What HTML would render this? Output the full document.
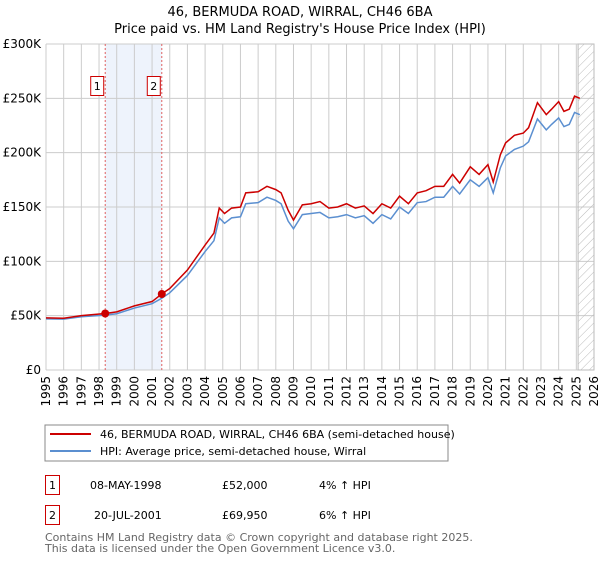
<!DOCTYPE html>
<html><head><meta charset="utf-8"><style>
body{margin:0;background:#fff;width:600px;height:560px;overflow:hidden;font-family:"DejaVu Sans","Liberation Sans",sans-serif}
svg text{font-family:"DejaVu Sans","Liberation Sans",sans-serif}
</style></head><body>
<svg id="chart" width="600" height="560" viewBox="0 0 600 560">
<text x="300" y="16" text-anchor="middle" font-size="13">46, BERMUDA ROAD, WIRRAL, CH46 6BA</text>
<text x="300" y="33" text-anchor="middle" font-size="13">Price paid vs. HM Land Registry's House Price Index (HPI)</text>
<defs><pattern id="hatch" width="6" height="6" patternUnits="userSpaceOnUse" patternTransform="rotate(45)"><line x1="0" y1="0" x2="0" y2="6" stroke="#bbb" stroke-width="1"/></pattern></defs>
<g id="grid"></g><g id="marks"></g><g id="axes"></g>
<rect x="45" y="425" width="403" height="36" fill="#fff" stroke="#888" stroke-width="1"/>
<line x1="50" y1="434" x2="91" y2="434" stroke="#cc0000" stroke-width="2"/>
<text x="100" y="438" font-size="11">46, BERMUDA ROAD, WIRRAL, CH46 6BA (semi-detached house)</text>
<line x1="50" y1="451" x2="91" y2="451" stroke="#5b8fd0" stroke-width="2"/>
<text x="100" y="455" font-size="11">HPI: Average price, semi-detached house, Wirral</text>
<g font-size="11">
<rect x="45.5" y="475.5" width="14" height="19" fill="#fff" stroke="#cc0000"/>
<text x="52.5" y="489" text-anchor="middle">1</text>
<text x="90" y="489">08-MAY-1998</text><text x="222" y="489">£52,000</text><text x="319" y="489">4% ↑ HPI</text></g>
<g font-size="11">
<rect x="45.5" y="505.5" width="14" height="19" fill="#fff" stroke="#cc0000"/>
<text x="52.5" y="519" text-anchor="middle">2</text>
<text x="94" y="519">20-JUL-2001</text><text x="222" y="519">£69,950</text><text x="319" y="519">6% ↑ HPI</text></g>
<text x="45" y="541" font-size="11" fill="#666">Contains HM Land Registry data © Crown copyright and database right 2025.</text>
<text x="45" y="552" font-size="11" fill="#666">This data is licensed under the Open Government Licence v3.0.</text>
</svg>
<script>
const yearTicks=[1995,1996,1997,1998,1999,2000,2001,2002,2003,2004,2005,2006,2007,2008,2009,2010,2011,2012,2013,2014,2015,2016,2017,2018,2019,2020,2021,2022,2023,2024,2025,2026];
const valueTicks=[0,50000,100000,150000,200000,250000,300000];
const valueLabels=["£0","£50K","£100K","£150K","£200K","£250K","£300K"];
const priceYears=[1995,1996,1997,1998.35,1999,2000,2001,2001.55,2002,2003,2004,2004.5,2004.8,2005.1,2005.5,2006,2006.3,2007,2007.5,2008,2008.3,2008.7,2009,2009.5,2010,2010.5,2011,2011.5,2012,2012.5,2013,2013.5,2014,2014.5,2015,2015.5,2016,2016.5,2017,2017.5,2018,2018.4,2019,2019.5,2020,2020.3,2020.7,2021,2021.5,2022,2022.3,2022.8,2023.3,2023.6,2024,2024.3,2024.6,2024.9,2025.2];
const priceValues=[48000,47600,50000,52000,53500,59000,63000,70000,75000,92000,115000,126000,149000,144000,149000,150000,163000,164000,169000,166000,163000,147000,138000,152000,153000,155000,149000,150000,153000,149000,151000,144000,153000,149000,160000,153000,163000,165000,169000,169000,180000,172000,187000,180000,189000,173000,198000,209000,216000,218000,223000,246000,235000,240000,247000,238000,240000,252000,250000];
const hpiValues=[47000,46800,49000,50500,51800,57000,61000,66000,71000,87000,109000,119000,140000,135000,140000,141000,153000,154000,159000,156000,153000,137000,130000,143000,144000,145000,140000,141000,143000,140000,142000,135000,143000,139000,150000,144000,154000,155000,159000,159000,169000,162000,175000,169000,177000,163000,186000,197000,203000,206000,210000,231000,221000,226000,232000,224000,226000,237000,235000];
const saleYears=[1998.35,2001.55];
const saleValues=[52000,69950];
const saleLabels=["1","2"];
const hatchStart=2025.1;
const X0=46,X1=594,Y0=370,Y1=44;
const xs=y=>X0+(y-1995)/(2026-1995)*(X1-X0);
const ys=v=>Y0-v/300000*(Y0-Y1);
const NS="http://www.w3.org/2000/svg";
function mk(tag,attrs,parent){const e=document.createElementNS(NS,tag);for(const k in attrs)e.setAttribute(k,attrs[k]);parent.appendChild(e);return e;}
const grid=document.getElementById('grid'),marks=document.getElementById('marks'),axes=document.getElementById('axes');
// shaded band between sales
const band=mk('rect',{x:xs(saleYears[0]),y:Y1,width:xs(saleYears[1])-xs(saleYears[0]),height:Y0-Y1,fill:'#eef3fc'},grid);


yearTicks.forEach(t=>{const l=mk('line',{x1:xs(t),x2:xs(t),y1:Y1,y2:Y0,stroke:'#ccc','stroke-width':1},grid);


const tx=mk('text',{x:0,y:0,'font-size':12,'text-anchor':'end',transform:`translate(${xs(t)+4},${Y0+6}) rotate(-90)`},axes);
tx.textContent=t;

});
valueTicks.forEach((v,i)=>{const l=mk('line',{x1:X0,x2:X1,y1:ys(v),y2:ys(v),stroke:'#ccc','stroke-width':1},grid);


const tx=mk('text',{x:X0-5,y:ys(v)+4,'font-size':12,'text-anchor':'end'},axes);
tx.textContent=valueLabels[i];

});
const h=mk('rect',{x:xs(hatchStart),y:Y1,width:X1-xs(hatchStart),height:Y0-Y1,fill:'url(#hatch)',stroke:'#bbb'},grid);


const hp=mk('polyline',{points:priceYears.map((y,i)=>xs(y)+','+ys(hpiValues[i])).join(' '),fill:'none',stroke:'#5b8fd0','stroke-width':1.5},marks);


const pp=mk('polyline',{points:priceYears.map((y,i)=>xs(y)+','+ys(priceValues[i])).join(' '),fill:'none',stroke:'#cc0000','stroke-width':1.5},marks);


saleYears.forEach((y,i)=>{const vl=mk('line',{x1:xs(y),x2:xs(y),y1:Y1,y2:Y0,stroke:'#e06060','stroke-dasharray':'2,2','stroke-width':1},marks);


const c=mk('circle',{cx:xs(y),cy:ys(saleValues[i]),r:4,fill:'#cc0000'},marks);


const r=mk('rect',{x:xs(y)-14.5,y:76.5,width:13,height:19,fill:'#fff',stroke:'#cc0000'},marks);


const t=mk('text',{x:xs(y)-8,y:90,'font-size':11,'text-anchor':'middle'},marks);
t.textContent=saleLabels[i];

});
</script>
</body></html>
